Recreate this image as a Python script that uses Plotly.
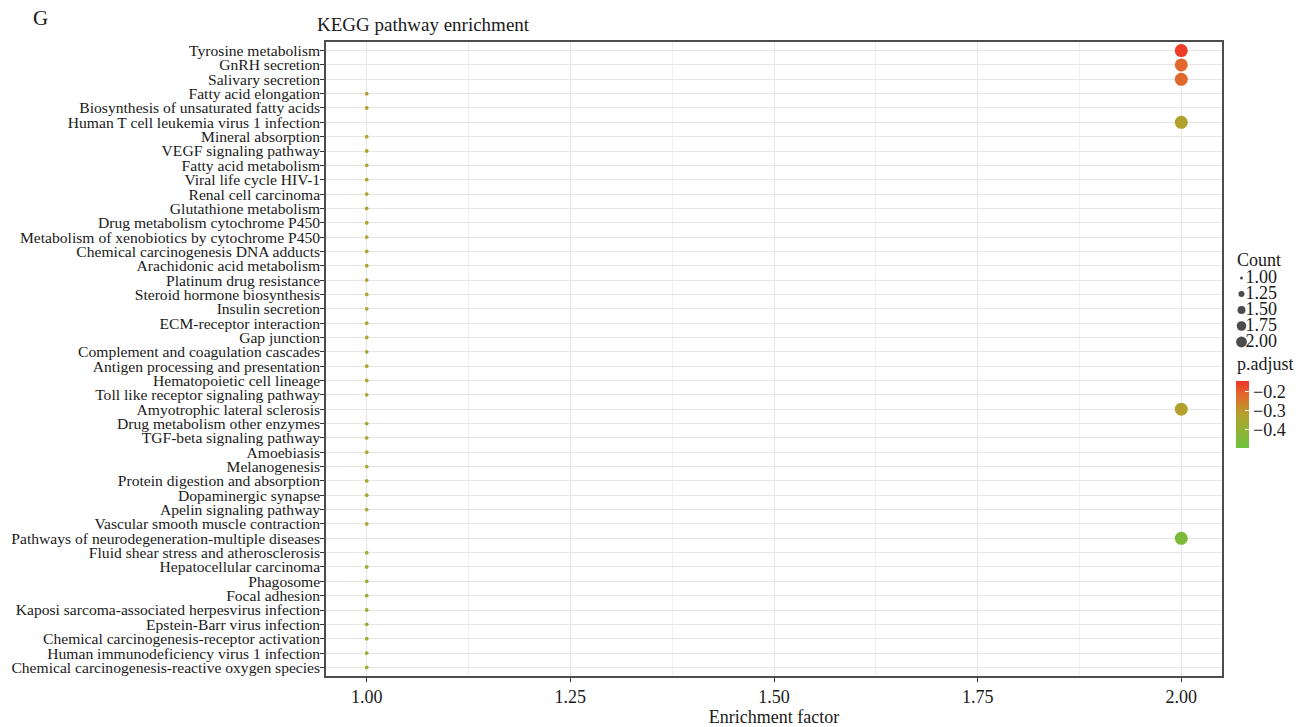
import math
import plotly.graph_objects as go

pathways = [
    "Tyrosine metabolism", "GnRH secretion", "Salivary secretion", "Fatty acid elongation",
    "Biosynthesis of unsaturated fatty acids", "Human T cell leukemia virus 1 infection",
    "Mineral absorption", "VEGF signaling pathway", "Fatty acid metabolism", "Viral life cycle HIV-1",
    "Renal cell carcinoma", "Glutathione metabolism", "Drug metabolism cytochrome P450",
    "Metabolism of xenobiotics by cytochrome P450", "Chemical carcinogenesis DNA adducts",
    "Arachidonic acid metabolism", "Platinum drug resistance", "Steroid hormone biosynthesis",
    "Insulin secretion", "ECM-receptor interaction", "Gap junction",
    "Complement and coagulation cascades", "Antigen processing and presentation",
    "Hematopoietic cell lineage", "Toll like receptor signaling pathway",
    "Amyotrophic lateral sclerosis", "Drug metabolism other enzymes", "TGF-beta signaling pathway",
    "Amoebiasis", "Melanogenesis", "Protein digestion and absorption", "Dopaminergic synapse",
    "Apelin signaling pathway", "Vascular smooth muscle contraction",
    "Pathways of neurodegeneration-multiple diseases", "Fluid shear stress and atherosclerosis",
    "Hepatocellular carcinoma", "Phagosome", "Focal adhesion",
    "Kaposi sarcoma-associated herpesvirus infection", "Epstein-Barr virus infection",
    "Chemical carcinogenesis-receptor activation", "Human immunodeficiency virus 1 infection",
    "Chemical carcinogenesis-reactive oxygen species",
]

enrichment = [
    2, 2, 2, 1, 1, 2, 1, 1, 1, 1, 1, 1, 1, 1, 1, 1, 1, 1, 1, 1, 1, 1,
    1, 1, 1, 2, 1, 1, 1, 1, 1, 1, 1, 1, 2, 1, 1, 1, 1, 1, 1, 1, 1, 1,
]

count = [
    2, 2, 2, 1, 1, 2, 1, 1, 1, 1, 1, 1, 1, 1, 1, 1, 1, 1, 1, 1, 1, 1,
    1, 1, 1, 2, 1, 1, 1, 1, 1, 1, 1, 1, 2, 1, 1, 1, 1, 1, 1, 1, 1, 1,
]

p_adjust = [
    -0.16, -0.22, -0.22, -0.31, -0.31, -0.32, -0.33, -0.33, -0.33, -0.33, -0.33, -0.33,
    -0.33, -0.33, -0.33, -0.33, -0.33, -0.33, -0.34, -0.34, -0.34, -0.34, -0.34, -0.34,
    -0.34, -0.32, -0.35, -0.35, -0.35, -0.35, -0.35, -0.35, -0.35, -0.35, -0.45, -0.38,
    -0.40, -0.38, -0.38, -0.38, -0.38, -0.38, -0.38, -0.38,
]

legend_counts = [1.00, 1.25, 1.50, 1.75, 2.00]
x_ticks = [1.00, 1.25, 1.50, 1.75, 2.00]
cbar_ticks = [-0.2, -0.3, -0.4]

P_MIN, P_MAX = -0.495, -0.147
colorscale = [
    [0.0, "#6BC33E"],
    [0.5, "#B3A22E"],
    [0.78, "#E06B2C"],
    [1.0, "#EE3526"],
]


def dot_size(c):
    return 3.8 + (c - 1.0) * 9.2


def key_size(c):
    return math.sqrt(9.0 + 110.0 * (c - 1.0))


SERIF = "Liberation Serif"
TXT = "#1a1a1a"
W, H = 1302, 727
L, T, B = 326, 42, 51
PW = W - L           # paper width (right margin 0)
PH = H - T - B       # paper height
PANEL_R = 1222


def px_x(x):
    return (x - L) / PW


def px_y(y):
    return (H - B - y) / PH


fig = go.Figure()

fig.add_trace(go.Scatter(
    x=enrichment, y=pathways, mode="markers",
    marker=dict(
        size=[dot_size(c) for c in count], opacity=1,
        color=p_adjust, colorscale=colorscale, cmin=P_MIN, cmax=P_MAX,
        line=dict(width=0),
        colorbar=dict(
            thickness=13, len=67, lenmode="pixels",
            x=px_x(1236), xanchor="left", xpad=0,
            y=px_y(381), yanchor="top", ypad=0,
            outlinewidth=0,
            tickvals=cbar_ticks, ticktext=["\u2212" + f"{abs(v):.1f}" for v in cbar_ticks],
            ticks="inside", ticklen=4, tickcolor="#ffffff",
            tickfont=dict(family=SERIF, size=18, color=TXT),
        ),
    ),
    showlegend=False,
    hovertemplate="%{y}<br>Enrichment factor: %{x}<extra></extra>",
))

# Count size key drawn on its own small axis in the right margin
fig.add_trace(go.Scatter(
    x=[9.5] * len(legend_counts), y=legend_counts, mode="markers",
    marker=dict(size=[key_size(c) for c in legend_counts], color="#000000", line=dict(width=0)),
    xaxis="x2", yaxis="y2", showlegend=False, hoverinfo="skip",
))
fig.add_trace(go.Scatter(
    x=[13.5] * len(legend_counts), y=legend_counts, mode="text",
    text=[f"{c:.2f}" for c in legend_counts], textposition="middle right",
    textfont=dict(family=SERIF, size=18, color=TXT),
    xaxis="x2", yaxis="y2", showlegend=False, hoverinfo="skip",
))

fig.update_layout(
    width=W, height=H,
    margin=dict(l=L, r=0, t=T, b=B, autoexpand=False),
    paper_bgcolor="white", plot_bgcolor="white",
    font=dict(family=SERIF, color=TXT),
    showlegend=False,
    title=dict(text="KEGG pathway enrichment", x=317 / W, xanchor="left", xref="container",
               y=1 - 24 / H, yanchor="middle", yref="container",
               font=dict(family=SERIF, size=19, color=TXT)),
    xaxis=dict(
        domain=[0, px_x(PANEL_R)],
        range=[0.95, 2.05], tickvals=x_ticks, ticktext=[f"{v:.2f}" for v in x_ticks],
        showgrid=True, gridcolor="#E6E6E6", gridwidth=1,
        minor=dict(tickvals=[1.125, 1.375, 1.625, 1.875], showgrid=True, gridcolor="#EFEFEF", gridwidth=0.7),
        ticks="outside", ticklen=4, tickcolor="#333333",
        showline=True, linecolor="#4D4D4D", linewidth=1.5, mirror=True,
        zeroline=False,
        tickfont=dict(family=SERIF, size=18, color=TXT),
        title=dict(text="Enrichment factor", font=dict(family=SERIF, size=18, color=TXT), standoff=8),
    ),
    yaxis=dict(
        type="category", categoryorder="array", categoryarray=pathways,
        tickmode="array", tickvals=pathways, ticktext=pathways,
        range=[len(pathways) - 1 + 0.6, -0.6],
        showgrid=True, gridcolor="#E6E6E6", gridwidth=1,
        ticks="outside", ticklen=4, tickcolor="#333333",
        ticklabelstandoff=-3,
        showline=True, linecolor="#4D4D4D", linewidth=1.5, mirror=True,
        zeroline=False,
        tickfont=dict(family=SERIF, size=15.6, color=TXT),
    ),
    xaxis2=dict(domain=[px_x(1232), 1.0], range=[0, 70], visible=False, fixedrange=True),
    yaxis2=dict(domain=[px_y(350), px_y(270)], range=[2.0 + 8 / 64, 1.0 - 8 / 64],
                visible=False, fixedrange=True, anchor="x2"),
    annotations=[
        dict(text="G", xref="paper", yref="paper", x=px_x(40), y=px_y(18),
             xanchor="center", yanchor="middle", showarrow=False,
             font=dict(family=SERIF, size=21, color=TXT)),
        dict(text="Count", xref="paper", yref="paper", x=px_x(1235), y=px_y(260),
             xanchor="left", yanchor="middle", showarrow=False,
             font=dict(family=SERIF, size=18, color=TXT)),
        dict(text="p.adjust", xref="paper", yref="paper", x=px_x(1235), y=px_y(364),
             xanchor="left", yanchor="middle", showarrow=False,
             font=dict(family=SERIF, size=18, color=TXT)),
    ],
)
fig.update_layout(xaxis2_anchor="y2")

fig.write_html("out.html")
